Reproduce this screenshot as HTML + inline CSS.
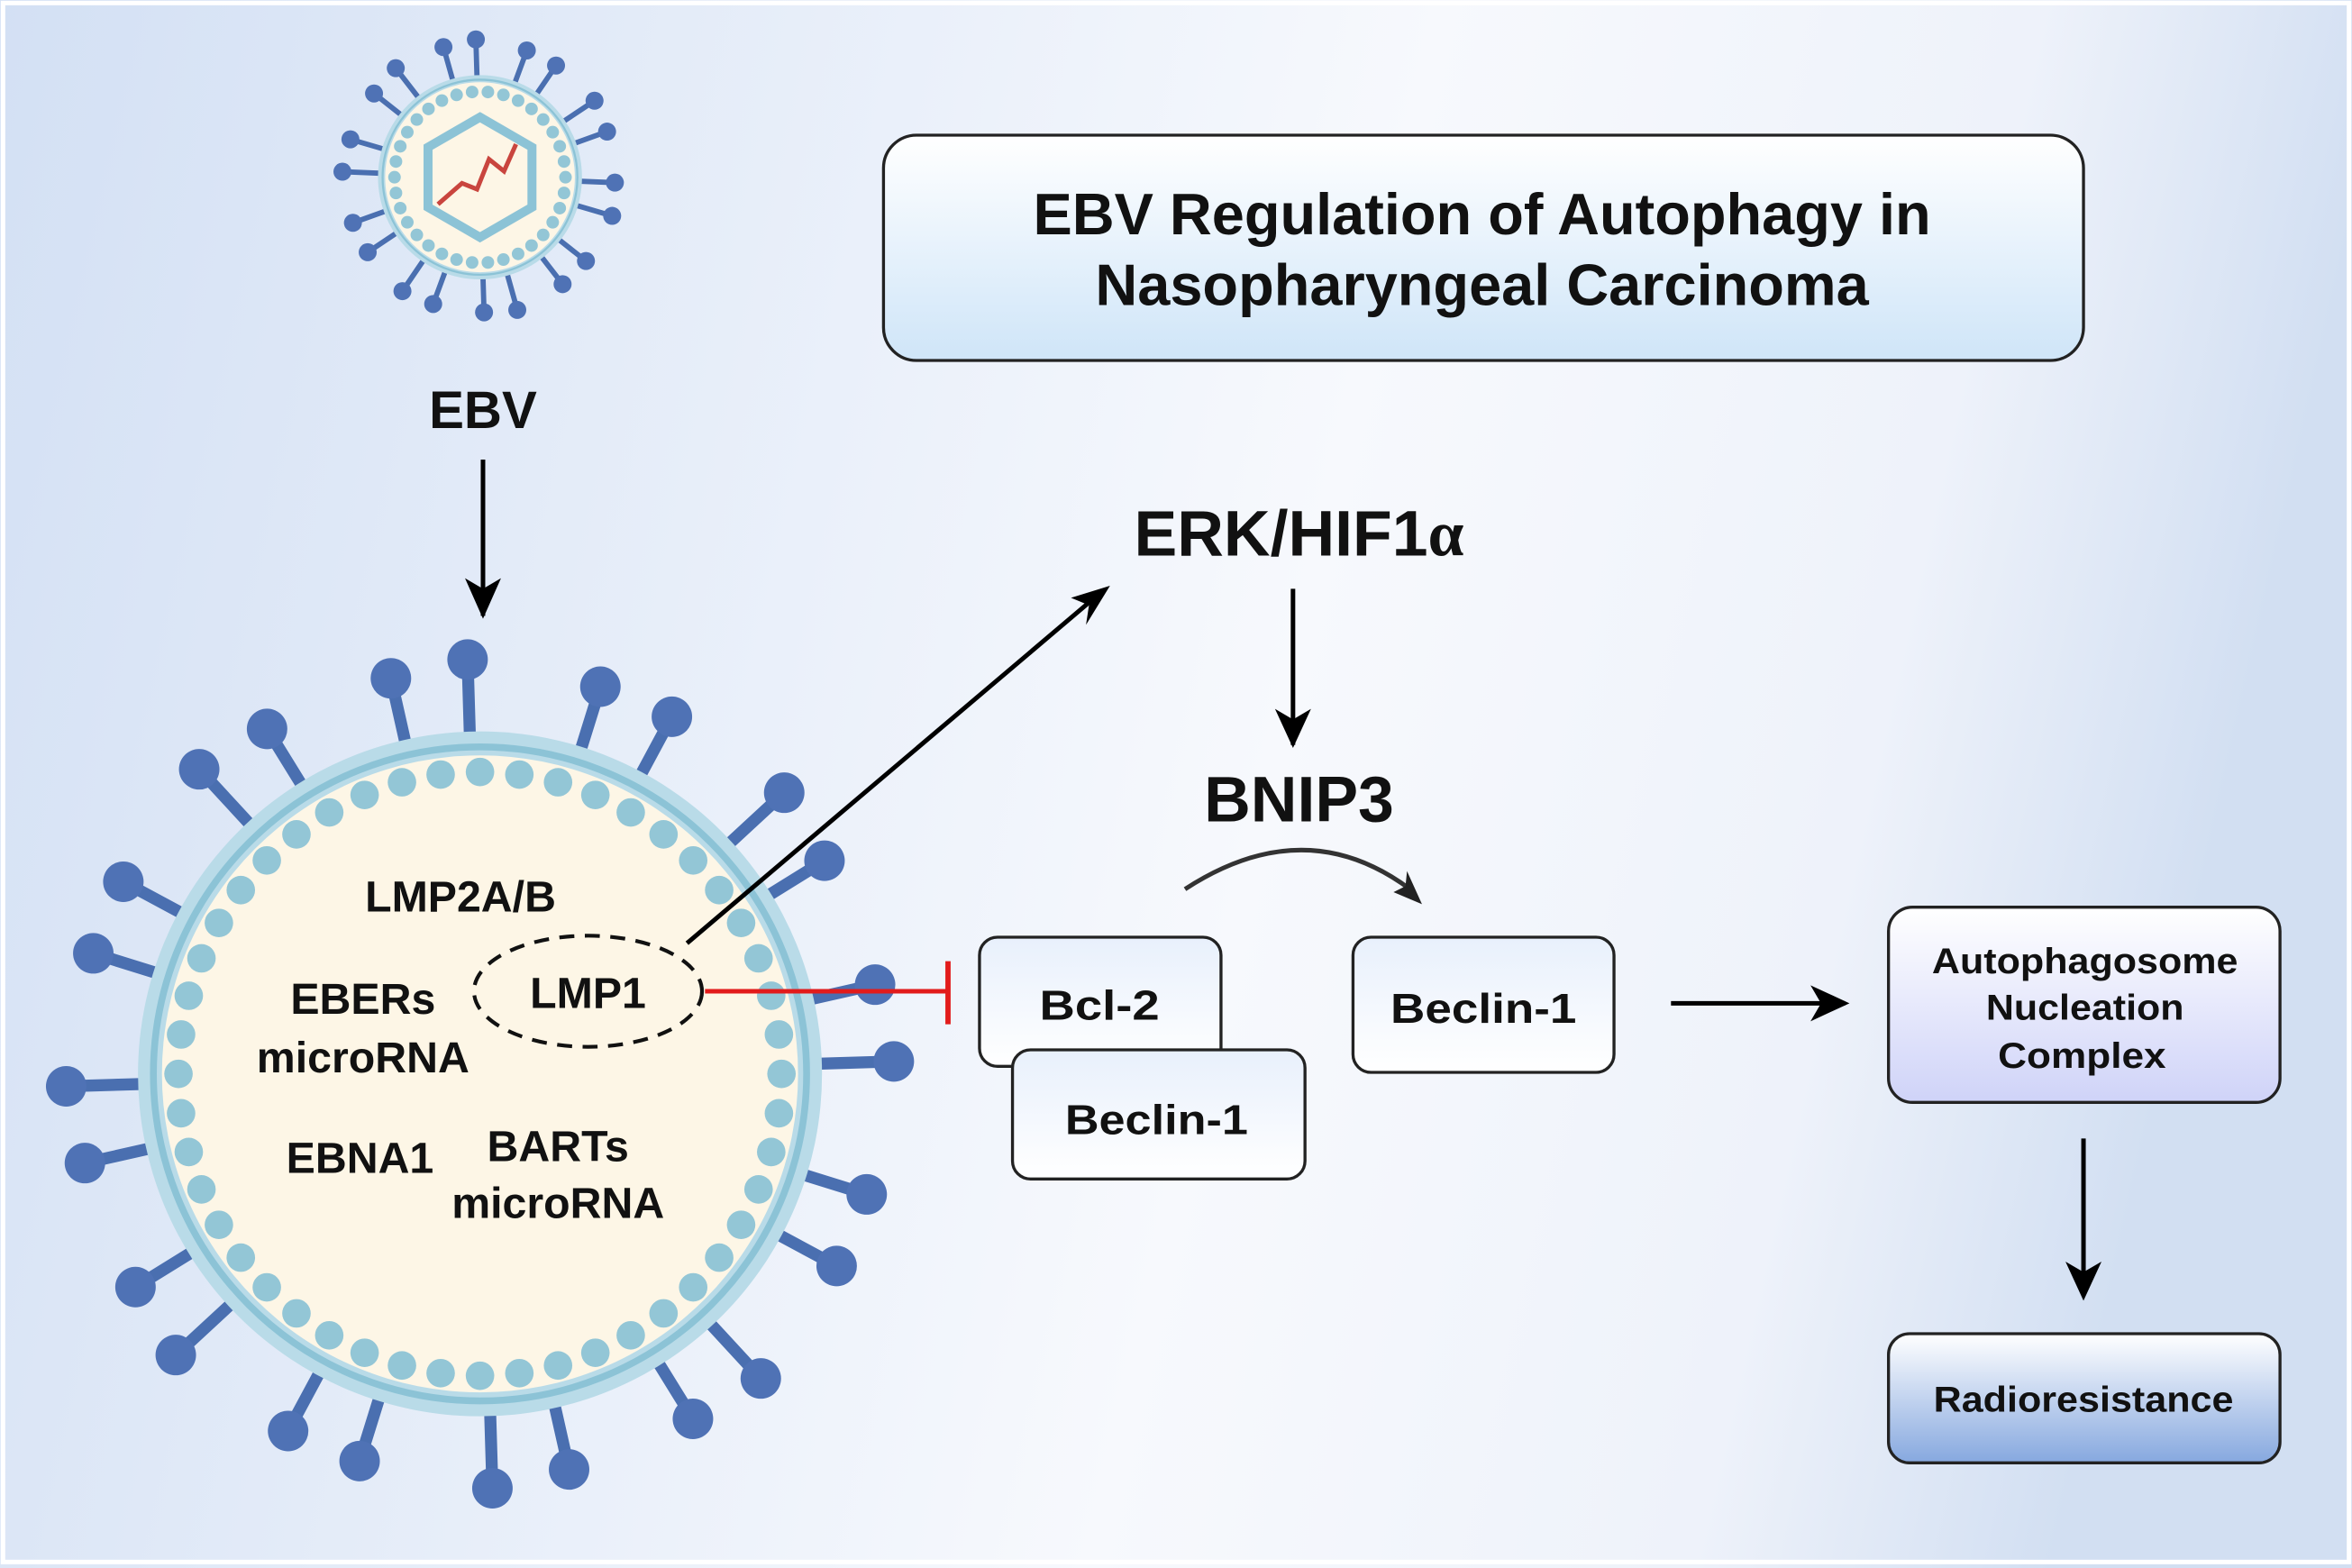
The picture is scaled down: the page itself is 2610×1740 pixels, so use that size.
<!DOCTYPE html>
<html><head><meta charset="utf-8"><style>
html,body{margin:0;padding:0;width:2610px;height:1740px;overflow:hidden;background:#fff}
svg{display:block}
text{font-family:"Liberation Sans",sans-serif;font-weight:bold;fill:#111}
</style></head><body>
<svg id="s" width="2610" height="1740" viewBox="0 0 1568 1044" preserveAspectRatio="none" xmlns="http://www.w3.org/2000/svg">
<defs>
<linearGradient id="bg" x1="0" y1="0" x2="1" y2="0.15">
<stop offset="0" stop-color="#d3e0f4"/><stop offset="0.6" stop-color="#f7f9fd"/><stop offset="0.85" stop-color="#eef2fa"/><stop offset="1" stop-color="#d2dff2"/></linearGradient>
<linearGradient id="tb" x1="0" y1="0" x2="0" y2="1"><stop offset="0" stop-color="#ffffff"/><stop offset="1" stop-color="#cfe5f8"/></linearGradient>
<linearGradient id="wb" x1="0" y1="0" x2="0" y2="1"><stop offset="0" stop-color="#e8f0fc"/><stop offset="1" stop-color="#ffffff"/></linearGradient>
<linearGradient id="ab" x1="0" y1="0" x2="0" y2="1"><stop offset="0" stop-color="#ffffff"/><stop offset="1" stop-color="#cfd3f8"/></linearGradient>
<linearGradient id="rb" x1="0" y1="0" x2="0" y2="1"><stop offset="0" stop-color="#ffffff"/><stop offset="1" stop-color="#86a8df"/></linearGradient>
</defs>
<rect x="0" y="0" width="1568" height="1044" fill="url(#bg)"/>
<rect x="2" y="2" width="1564" height="1038" fill="none" stroke="#fff" stroke-width="3"/>
<g id="virus"></g>

<text x="322" y="285" font-size="35" text-anchor="middle">EBV</text>
<line x1="322" y1="306" x2="322" y2="410" stroke="#000" stroke-width="3"/>
<path d="M310,385 L322,412 L334,385 L322,392Z" fill="#000"/>

<text x="307" y="607" font-size="29" text-anchor="middle">LMP2A/B</text>
<text x="242" y="675" font-size="29" text-anchor="middle">EBERs</text>
<text x="242" y="714" font-size="29" text-anchor="middle">microRNA</text>
<ellipse cx="392" cy="660" rx="76" ry="37" fill="none" stroke="#111" stroke-width="2.5" stroke-dasharray="10,7"/>
<text x="392" y="671" font-size="29" text-anchor="middle">LMP1</text>
<text x="240" y="781" font-size="29" text-anchor="middle">EBNA1</text>
<text x="372" y="773" font-size="29" text-anchor="middle">BARTs</text>
<text x="372" y="811" font-size="29" text-anchor="middle">microRNA</text>

<line x1="458" y1="628" x2="725" y2="402" stroke="#000" stroke-width="3"/>
<path d="M740,390 L714,398 L726,403 L724,416Z" fill="#000"/>
<line x1="470" y1="660" x2="632" y2="660" stroke="#e21b1b" stroke-width="3"/>
<line x1="632" y1="640" x2="632" y2="682" stroke="#e21b1b" stroke-width="3.5"/>

<rect x="589" y="90" width="800" height="150" rx="22" fill="url(#tb)" stroke="#222" stroke-width="2"/>
<text x="988" y="156" font-size="39" text-anchor="middle">EBV Regulation of Autophagy in</text>
<text x="988" y="203" font-size="39" text-anchor="middle">Nasopharyngeal Carcinoma</text>

<text x="866" y="370" font-size="43" text-anchor="middle">ERK/HIF1<tspan font-family="Liberation Serif,serif">α</tspan></text>
<line x1="862" y1="392" x2="862" y2="496" stroke="#000" stroke-width="3"/>
<path d="M850,472 L862,498 L874,472 L862,479Z" fill="#000"/>
<text x="866" y="547" font-size="43" text-anchor="middle">BNIP3</text>
<path d="M790,592 Q870,540 940,592" fill="none" stroke="#333" stroke-width="3"/>
<path d="M948,602 L929,594 L937,590 L938,580Z" fill="#222"/>

<rect x="653" y="624" width="161" height="86" rx="12" fill="url(#wb)" stroke="#222" stroke-width="2"/>
<text x="733" y="679" font-size="28" text-anchor="middle" textLength="80" lengthAdjust="spacingAndGlyphs">Bcl-2</text>
<rect x="675" y="699" width="195" height="86" rx="12" fill="url(#wb)" stroke="#222" stroke-width="2"/>
<text x="771" y="755" font-size="28" text-anchor="middle" textLength="122" lengthAdjust="spacingAndGlyphs">Beclin-1</text>
<rect x="902" y="624" width="174" height="90" rx="12" fill="url(#wb)" stroke="#222" stroke-width="2"/>
<text x="989" y="681" font-size="28" text-anchor="middle" textLength="124" lengthAdjust="spacingAndGlyphs">Beclin-1</text>

<line x1="1114" y1="668" x2="1230" y2="668" stroke="#000" stroke-width="3"/>
<path d="M1207,656 L1233,668 L1207,680 L1214,668Z" fill="#000"/>
<rect x="1259" y="604" width="261" height="130" rx="16" fill="url(#ab)" stroke="#222" stroke-width="2"/>
<text x="1390" y="648" font-size="24" text-anchor="middle" textLength="204" lengthAdjust="spacingAndGlyphs">Autophagosome</text>
<text x="1390" y="679" font-size="24" text-anchor="middle" textLength="132" lengthAdjust="spacingAndGlyphs">Nucleation</text>
<text x="1388" y="711" font-size="24" text-anchor="middle" textLength="112" lengthAdjust="spacingAndGlyphs">Complex</text>
<line x1="1389" y1="758" x2="1389" y2="862" stroke="#000" stroke-width="3"/>
<path d="M1377,840 L1389,866 L1401,840 L1389,847Z" fill="#000"/>
<rect x="1259" y="888" width="261" height="86" rx="14" fill="url(#rb)" stroke="#222" stroke-width="2"/>
<text x="1389" y="940" font-size="24" text-anchor="middle" textLength="200" lengthAdjust="spacingAndGlyphs">Radioresistance</text>
</svg>
<script>
(function(){
var NS="http://www.w3.org/2000/svg",g=document.getElementById("virus");
function el(t,a){var e=document.createElementNS(NS,t);for(var k in a)e.setAttribute(k,a[k]);g.appendChild(e);return e;}
function virus(cx,cy,R,nS,ri,ro,br,sw,nd,dr,dot,cap){
 for(var i=0;i<nS;i++){var a=-Math.PI/2+i*2*Math.PI/nS+(i%2?0.04:-0.03);var l=ro+(i%3==0?6*R/228:0);
  el("line",{x1:cx+Math.cos(a)*ri,y1:cy+Math.sin(a)*ri,x2:cx+Math.cos(a)*l,y2:cy+Math.sin(a)*l,stroke:"#4a6fb0","stroke-width":sw,"stroke-linecap":"round"});
  el("circle",{cx:cx+Math.cos(a)*l,cy:cy+Math.sin(a)*l,r:br,fill:"#4f72b5"});}
 el("circle",{cx:cx,cy:cy,r:R,fill:"#b9dbe8"});
 el("circle",{cx:cx,cy:cy,r:R*0.955,fill:"none",stroke:"#8cc3d6","stroke-width":R*0.02});
 el("circle",{cx:cx,cy:cy,r:R*0.93,fill:"#fdf6e6"});
 for(var j=0;j<nd;j++){var b=j*2*Math.PI/nd;el("circle",{cx:cx+Math.cos(b)*dr,cy:cy+Math.sin(b)*dr,r:dot,fill:"#93c6d6"});}
 if(cap){var p="";for(var k=0;k<6;k++){var c=-Math.PI/2+k*Math.PI/3;p+=(cx+Math.cos(c)*cap)+","+(cy+Math.sin(c)*cap)+" ";}
  el("polygon",{points:p,fill:"#fdf6e6",stroke:"#8cc3d6","stroke-width":6});
  el("polyline",{points:(cx-28)+","+(cy+18)+" "+(cx-12)+","+(cy+4)+" "+(cx-2)+","+(cy+8)+" "+(cx+6)+","+(cy-12)+" "+(cx+16)+","+(cy-4)+" "+(cx+24)+","+(cy-22),fill:"none",stroke:"#c9453e","stroke-width":3});}
}
virus(320,118,68,20,64,90,6,3.5,34,57,4.2,40);
virus(320,715,228,24,215,270,13.5,8,48,201,9.5,0);
})();
</script>
</body></html>
